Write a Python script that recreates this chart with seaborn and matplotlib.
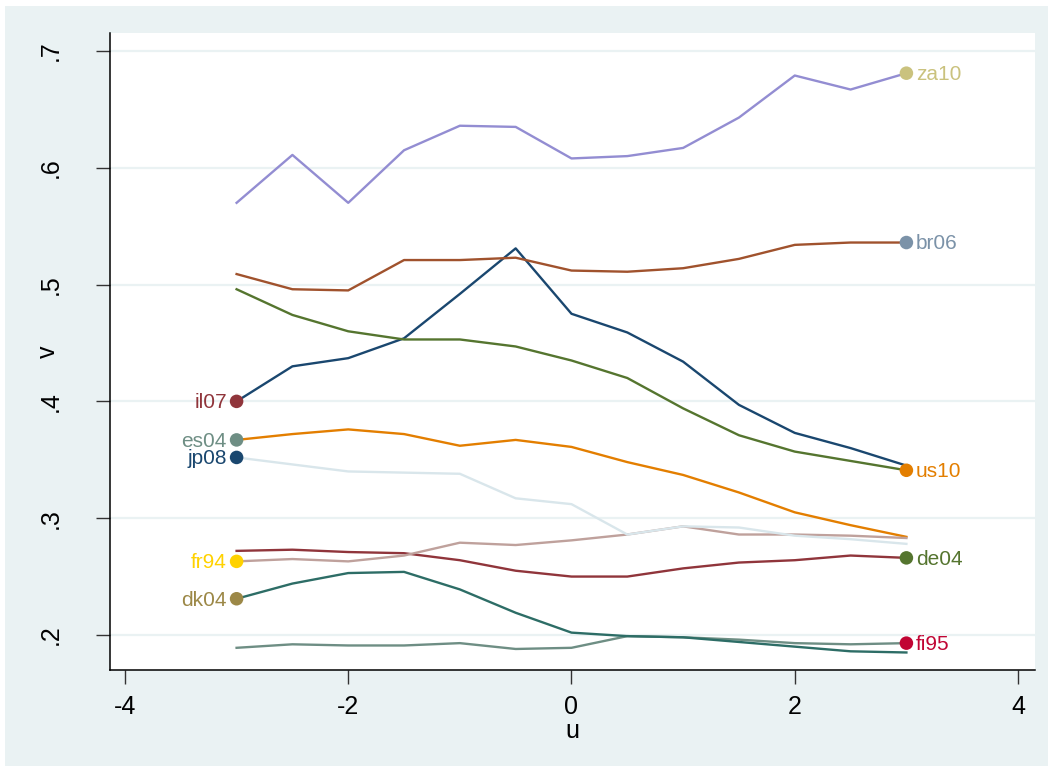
"""
Stata-style line chart: v against u for ten country-year series,
with a labelled marker at the start or end of each line.
"""
import numpy as np
import pandas as pd
import matplotlib
matplotlib.use("Agg")
from matplotlib import pyplot as plt
from matplotlib.patches import Rectangle
import seaborn as sns

# x grid shared by all series
u = [-3, -2.5, -2, -1.5, -1, -0.5, 0, 0.5, 1, 1.5, 2, 2.5, 3]

# series values
za10 = [0.570, 0.611, 0.570, 0.615, 0.636, 0.635, 0.608, 0.610, 0.617, 0.643, 0.679, 0.667, 0.681]
br06 = [0.509, 0.496, 0.495, 0.521, 0.521, 0.523, 0.512, 0.511, 0.514, 0.522, 0.534, 0.536, 0.536]
il07 = [0.400, 0.430, 0.437, 0.454, 0.492, 0.531, 0.475, 0.459, 0.434, 0.397, 0.373, 0.360, 0.345]
us10 = [0.496, 0.474, 0.460, 0.453, 0.453, 0.447, 0.435, 0.420, 0.394, 0.371, 0.357, 0.349, 0.341]
es04 = [0.367, 0.372, 0.376, 0.372, 0.362, 0.367, 0.361, 0.348, 0.337, 0.322, 0.305, 0.294, 0.284]
jp08 = [0.352, 0.346, 0.340, 0.339, 0.338, 0.317, 0.312, 0.286, 0.293, 0.292, 0.285, 0.282, 0.278]
fr94 = [0.263, 0.265, 0.263, 0.268, 0.279, 0.277, 0.281, 0.286, 0.293, 0.286, 0.286, 0.285, 0.283]
de04 = [0.272, 0.273, 0.271, 0.270, 0.264, 0.255, 0.250, 0.250, 0.257, 0.262, 0.264, 0.268, 0.266]
dk04 = [0.231, 0.244, 0.253, 0.254, 0.239, 0.219, 0.202, 0.199, 0.198, 0.194, 0.190, 0.186, 0.185]
fi95 = [0.189, 0.192, 0.191, 0.191, 0.193, 0.188, 0.189, 0.199, 0.198, 0.196, 0.193, 0.192, 0.193]

series = {
    "il07": il07, "de04": de04, "us10": us10, "es04": es04, "fi95": fi95,
    "za10": za10, "br06": br06, "dk04": dk04, "fr94": fr94, "jp08": jp08,
}

# line colours (Stata s2color)
line_colors = {
    "il07": "#1A476F", "de04": "#90353B", "us10": "#55752F", "es04": "#E37E00",
    "fi95": "#6E8E84", "za10": "#938DD2", "br06": "#A0522D", "dk04": "#2D6D66",
    "fr94": "#BFA19C", "jp08": "#D9E6EB",
}

# labelled markers: which end of the line and what colour
left_labels = ["il07", "es04", "jp08", "fr94", "dk04"]
right_labels = ["za10", "br06", "us10", "de04", "fi95"]
marker_colors = {
    "il07": "#90353B", "es04": "#6E8E84", "jp08": "#1A476F", "fr94": "#FFD200",
    "dk04": "#9C8847", "za10": "#CAC27E", "br06": "#7B92A8", "us10": "#E37E00",
    "de04": "#55752F", "fi95": "#C10534",
}

yticks = [0.2, 0.3, 0.4, 0.5, 0.6, 0.7]
ytick_labels = [".2", ".3", ".4", ".5", ".6", ".7"]
xticks = [-4, -2, 0, 2, 4]

BG = "#EAF2F3"

df = pd.concat(
    [pd.DataFrame({"u": u, "v": vals, "name": name}) for name, vals in series.items()],
    ignore_index=True,
)

plt.rcParams["font.family"] = ["Liberation Sans", "DejaVu Sans"]

fig = plt.figure(figsize=(10.53, 7.71), dpi=100, facecolor="white")
fig.patches.append(
    Rectangle((5 / 1053, 5 / 771), 1043 / 1053, 760 / 771,
              transform=fig.transFigure, facecolor=BG, edgecolor="none", zorder=-10)
)
ax = fig.add_axes([110 / 1053, 1 - 670 / 771, 925 / 1053, 637 / 771])
ax.set_zorder(1)
ax.set_facecolor("white")

# gridlines
for y in yticks:
    ax.axhline(y, color=BG, lw=1.6, zorder=1)

sns.lineplot(
    data=df, x="u", y="v", hue="name", hue_order=list(series.keys()),
    palette=line_colors, lw=1.7, legend=False, ax=ax, zorder=3,
)

# end markers
ends = pd.DataFrame(
    [{"u": u[0], "v": series[n][0], "name": n} for n in left_labels]
    + [{"u": u[-1], "v": series[n][-1], "name": n} for n in right_labels]
)
sns.scatterplot(
    data=ends, x="u", y="v", hue="name", palette=marker_colors,
    s=95, linewidth=0, legend=False, ax=ax, zorder=4,
)
for _, r in ends.iterrows():
    left = r["name"] in left_labels
    ax.annotate(
        r["name"], (r["u"], r["v"]), xytext=(-7 if left else 7, -1),
        textcoords="offset points", ha="right" if left else "left", va="center",
        fontsize=15, color=marker_colors[r["name"]], zorder=5,
    )

ax.set_xlim(-4.134, 4.152)
ax.set_ylim(0.1700, 0.7154)
ax.set_xticks(xticks)
ax.set_xticklabels([str(x) for x in xticks], fontsize=18)
ax.set_yticks(yticks)
ax.set_yticklabels(ytick_labels, fontsize=18, rotation=90, va="center")
ax.tick_params(axis="x", length=10, width=1, pad=8, color="#333333")
ax.tick_params(axis="y", length=10, width=1, pad=24, color="#333333")

for side in ["top", "right"]:
    ax.spines[side].set_visible(False)
for side in ["left", "bottom"]:
    ax.spines[side].set_color("black")
    ax.spines[side].set_linewidth(1.1)

ax.set_xlabel("u", fontsize=18, labelpad=0)
ax.set_ylabel("v", fontsize=18)
# Stata puts the y title in the tick-label column
ax.yaxis.set_label_coords(-0.054, 0.5)

fig.savefig("out.png", dpi=100, facecolor=fig.get_facecolor())
